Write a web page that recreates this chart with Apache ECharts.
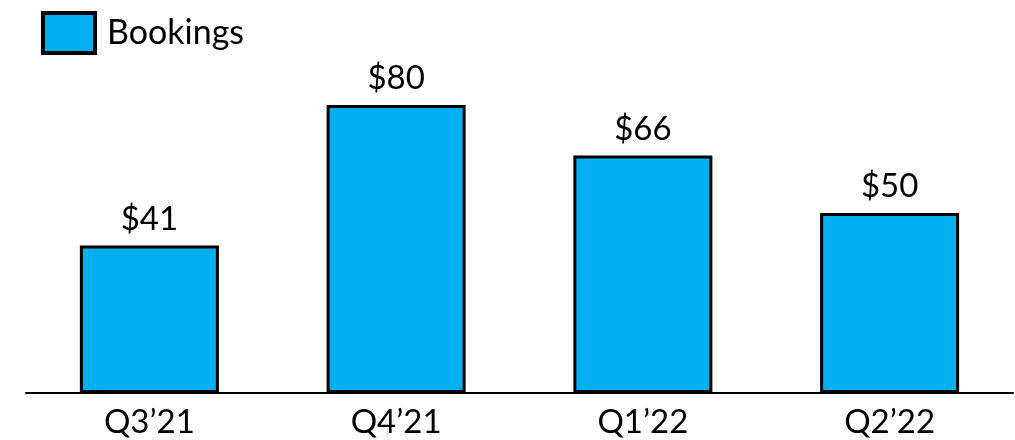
<!DOCTYPE html>
<html>
<head>
<meta charset="utf-8">
<script src="https://cdn.jsdelivr.net/npm/echarts@6/dist/echarts.min.js"></script>
<style>
  html, body { margin: 0; padding: 0; background: #fff; }
  #chart { width: 1015px; height: 440px; }
</style>
</head>
<body>
<div id="chart"></div>
<script>
const categories = ["Q3\u201921", "Q4\u201921", "Q1\u201922", "Q2\u201922"];
const bookings = [41, 80, 66, 50];
const valueLabels = ["$41", "$80", "$66", "$50"];

const FONT = "Lato, 'Open Sans', sans-serif";

const chart = echarts.init(document.getElementById("chart"));

chart.setOption({
  animation: false,
  backgroundColor: "#fff",
  legend: {
    left: 36,
    top: 6,
    icon: "rect",
    itemWidth: 52,
    itemHeight: 40,
    itemGap: 10,
    itemStyle: { borderColor: "#000", borderWidth: 4 },
    textStyle: { fontFamily: FONT, fontSize: 34, color: "#000", padding: [0, 0, 0, 7] },
    data: ["Bookings"]
  },
  grid: { left: 26, right: 2, top: 33, bottom: 47 },
  xAxis: {
    type: "category",
    data: categories,
    axisLine: { lineStyle: { color: "#000", width: 2 } },
    axisTick: { show: false },
    axisLabel: { fontFamily: FONT, fontSize: 33, color: "#000", margin: 13 }
  },
  yAxis: {
    type: "value",
    min: 0,
    max: 100,
    show: false
  },
  series: [{
    name: "Bookings",
    type: "bar",
    barWidth: 139,
    data: bookings,
    itemStyle: { color: "#00B0F0", borderColor: "#000", borderWidth: 3 },
    label: {
      show: true,
      position: "top",
      distance: 10,
      fontFamily: FONT,
      fontSize: 33,
      color: "#000",
      formatter: p => valueLabels[p.dataIndex]
    }
  }]
});
</script>
</body>
</html>
